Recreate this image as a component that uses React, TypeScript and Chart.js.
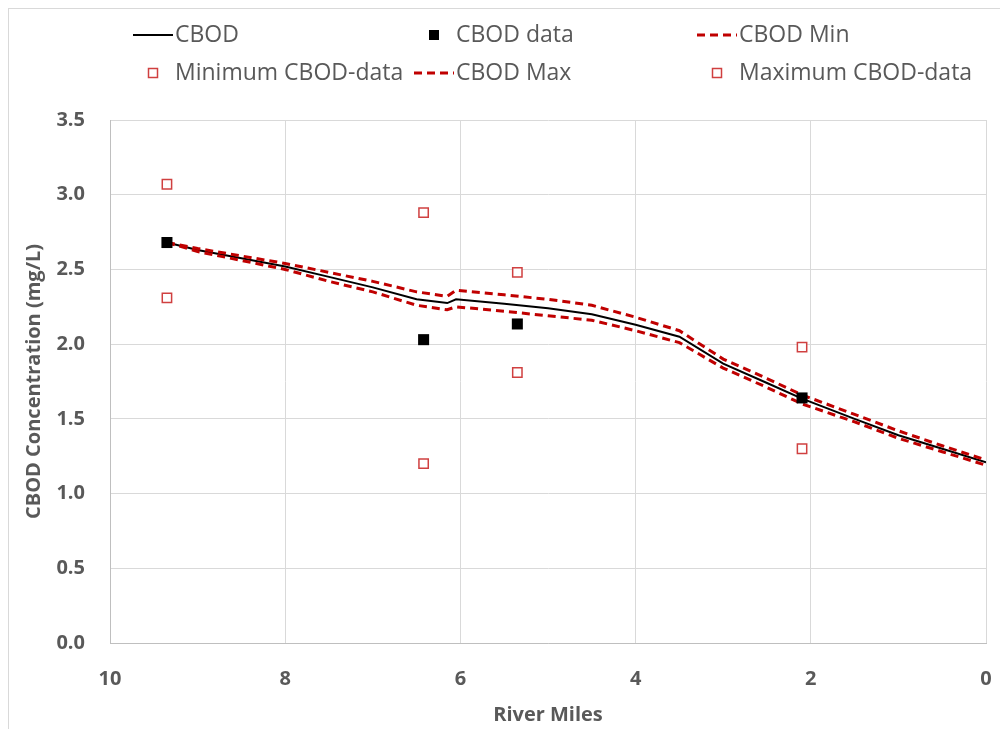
import { useEffect, useRef } from "react";
import { Chart, registerables } from "chart.js";

Chart.register(...registerables);

const modelMiles = [9.35, 9.0, 8.5, 8.0, 7.5, 7.0, 6.5, 6.15, 6.05, 5.5, 5.0, 4.5, 4.0, 3.5, 3.0, 2.5, 2.1, 1.5, 1.0, 0.5, 0.0];
const cbod = [2.68, 2.63, 2.575, 2.52, 2.45, 2.38, 2.3, 2.275, 2.3, 2.27, 2.24, 2.2, 2.13, 2.05, 1.87, 1.74, 1.635, 1.5, 1.39, 1.3, 1.21];
const cbodMin = [2.68, 2.62, 2.56, 2.5, 2.42, 2.35, 2.26, 2.23, 2.25, 2.22, 2.19, 2.16, 2.09, 2.01, 1.84, 1.71, 1.6, 1.48, 1.37, 1.28, 1.19];
const cbodMax = [2.68, 2.64, 2.59, 2.54, 2.48, 2.42, 2.35, 2.32, 2.36, 2.33, 2.3, 2.26, 2.18, 2.09, 1.9, 1.77, 1.66, 1.53, 1.42, 1.32, 1.225];

const dataMiles = [9.35, 6.42, 5.35, 2.1];
const cbodData = [2.68, 2.03, 2.135, 1.64];
const minData = [2.31, 1.2, 1.81, 1.3];
const maxData = [3.07, 2.88, 2.48, 1.98];

const xTickValues = [10, 8, 6, 4, 2, 0];
const yTickValues = [0, 0.5, 1.0, 1.5, 2.0, 2.5, 3.0, 3.5];

const RED = "#c00000";
const TEXT = "#595959";
const FONT = "'Open Sans', sans-serif";

const pts = (xs: number[], ys: number[]) => xs.map((x, i) => ({ x, y: ys[i] }));

const legendCols = [153, 434, 717];
const legendRows = [35, 73];

const legendPlugin = {
  id: "customLegend",
  afterDraw(chart: any) {
    const ctx = chart.ctx;
    const ds = chart.data.datasets;
    ctx.save();
    ctx.fillStyle = "#d9d9d9";
    ctx.fillRect(8, 8, chart.width - 8, 1);
    ctx.fillRect(8, 8, 1, chart.height - 8);
    ds.forEach((d: any, i: number) => {
      const cx = legendCols[i % 3];
      const cy = legendRows[Math.floor(i / 3)];
      if (d.showLine) {
        ctx.beginPath();
        ctx.strokeStyle = d.borderColor;
        ctx.lineWidth = d.borderWidth;
        ctx.setLineDash(d.borderDash || []);
        ctx.moveTo(cx - 20, cy);
        ctx.lineTo(cx + 20, cy);
        ctx.stroke();
        ctx.setLineDash([]);
      } else {
        const s = d.legendSize;
        ctx.fillStyle = d.backgroundColor;
        ctx.fillRect(cx - s / 2, cy - s / 2, s, s);
        if (d.borderWidth > 0) {
          ctx.strokeStyle = d.borderColor;
          ctx.lineWidth = d.borderWidth;
          ctx.strokeRect(cx - s / 2, cy - s / 2, s, s);
        }
      }
      ctx.fillStyle = TEXT;
      ctx.font = `23px ${FONT}`;
      ctx.textBaseline = "middle";
      ctx.textAlign = "left";
      ctx.fillText(d.label, cx + 22, cy);
    });
    ctx.restore();
  },
};

export default function App() {
  const ref = useRef<HTMLCanvasElement | null>(null);
  useEffect(() => {
    if (!ref.current) return;
    const chart = new Chart(ref.current, {
      type: "scatter",
      data: {
        datasets: [
          {
            label: "CBOD",
            data: pts(modelMiles, cbod),
            showLine: true,
            borderColor: "#000000",
            backgroundColor: "#000000",
            borderWidth: 2,
            pointRadius: 0,
            order: 3,
          } as any,
          {
            label: "CBOD data",
            data: pts(dataMiles, cbodData),
            showLine: false,
            pointStyle: "rect",
            pointRadius: 7.8,
            backgroundColor: "#000000",
            borderColor: "#000000",
            borderWidth: 0,
            legendSize: 10,
            order: 1,
          },
          {
            label: "CBOD Min",
            data: pts(modelMiles, cbodMin),
            showLine: true,
            borderColor: RED,
            backgroundColor: RED,
            borderWidth: 3,
            borderDash: [8, 5],
            pointRadius: 0,
            order: 2,
          },
          {
            label: "Minimum CBOD-data",
            data: pts(dataMiles, minData),
            showLine: false,
            pointStyle: "rect",
            pointRadius: 6.6,
            backgroundColor: "#ffffff",
            borderColor: "#d04040",
            borderWidth: 1.5,
            legendSize: 9,
            order: 1,
          },
          {
            label: "CBOD Max",
            data: pts(modelMiles, cbodMax),
            showLine: true,
            borderColor: RED,
            backgroundColor: RED,
            borderWidth: 3,
            borderDash: [8, 5],
            pointRadius: 0,
            order: 2,
          },
          {
            label: "Maximum CBOD-data",
            data: pts(dataMiles, maxData),
            showLine: false,
            pointStyle: "rect",
            pointRadius: 6.6,
            backgroundColor: "#ffffff",
            borderColor: "#d04040",
            borderWidth: 1.5,
            legendSize: 9,
            order: 1,
          },
        ] as any,
      },
      options: {
        animation: false,
        responsive: false,
        maintainAspectRatio: false,
        layout: { padding: { left: 0, right: 14, top: 120, bottom: 0 } },
        plugins: {
          legend: { display: false },
          tooltip: { enabled: false },
        },
        scales: {
          x: {
            type: "linear",
            reverse: true,
            min: 0,
            max: 10,
            afterBuildTicks: (s: any) => {
              s.ticks = xTickValues.map((v) => ({ value: v }));
            },
            afterFit: (s: any) => {
              s.height = 86;
              s.paddingLeft = 0;
              s.paddingRight = 0;
            },
            grid: { color: "#d9d9d9", drawTicks: false, lineWidth: 1 },
            border: { color: "#bfbfbf", width: 1 },
            ticks: {
              padding: 24,
              color: TEXT,
              font: { family: FONT, size: 20, weight: "bold", lineHeight: 1.2 },
              maxRotation: 0,
              callback: (v: any) => String(v),
            },
            title: {
              display: true,
              text: "River Miles",
              color: TEXT,
              font: { family: FONT, size: 20, weight: "bold", lineHeight: 1.2 },
              padding: { top: 0, bottom: 2 },
            },
          },
          y: {
            type: "linear",
            min: 0,
            max: 3.5,
            afterBuildTicks: (s: any) => {
              s.ticks = yTickValues.map((v) => ({ value: v }));
            },
            afterFit: (s: any) => {
              s.width = 110;
              s.paddingTop = 0;
              s.paddingBottom = 0;
            },
            grid: { color: "#d9d9d9", drawTicks: false, lineWidth: 1 },
            border: { color: "#bfbfbf", width: 1 },
            ticks: {
              padding: 25,
              color: TEXT,
              font: { family: FONT, size: 20, weight: "bold", lineHeight: 1.2 },
              callback: (v: any) => Number(v).toFixed(1),
            },
            title: {
              display: true,
              text: "CBOD Concentration (mg/L)",
              color: TEXT,
              font: { family: FONT, size: 20, weight: "bold", lineHeight: 1.2 },
              padding: { top: 22, bottom: 0 },
            },
          },
        },
      },
      plugins: [legendPlugin],
    });
    return () => chart.destroy();
  }, []);
  return (
    <div style={{ position: "absolute", left: 0, top: 0, width: 1000, height: 729, background: "#fff" }}>
      <canvas ref={ref} width={1000} height={729} style={{ width: 1000, height: 729, display: "block" }} />
    </div>
  );
}
